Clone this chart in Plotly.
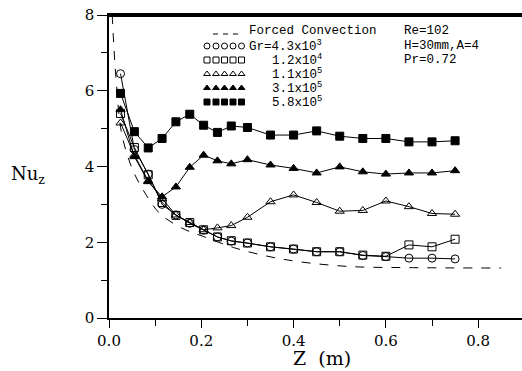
import plotly.graph_objects as go

# ---- data ----
z = [0.025, 0.055, 0.085, 0.115, 0.145, 0.175, 0.205, 0.235, 0.265, 0.3,
     0.35, 0.4, 0.45, 0.5, 0.55, 0.6, 0.65, 0.7, 0.75]
nu_gr43e3 = [6.45, 4.45, 3.80, 3.00, 2.72, 2.50, 2.32, 2.14, 2.03, 1.98,
             1.88, 1.82, 1.75, 1.75, 1.65, 1.62, 1.58, 1.58, 1.56]
nu_gr12e4 = [5.40, 4.50, 3.78, 3.05, 2.71, 2.52, 2.33, 2.14, 2.04, 1.98,
             1.88, 1.82, 1.75, 1.75, 1.66, 1.63, 1.93, 1.88, 2.08]
nu_gr11e5 = [5.15, 4.30, 3.62, 3.15, 2.72, 2.52, 2.33, 2.38, 2.44, 2.66,
             3.07, 3.25, 3.05, 2.82, 2.84, 3.09, 2.94, 2.76, 2.74]
nu_gr31e5 = [5.50, 4.26, 3.60, 3.20, 3.46, 3.98, 4.30, 4.15, 4.07, 4.18,
             4.04, 3.95, 3.83, 3.99, 3.86, 3.80, 3.83, 3.83, 3.89]
nu_gr58e5 = [5.93, 4.92, 4.49, 4.74, 5.18, 5.38, 5.09, 4.90, 5.07, 5.03,
             4.83, 4.83, 4.94, 4.80, 4.74, 4.74, 4.65, 4.65, 4.68]
fc_z = [0.007, 0.011, 0.016, 0.027, 0.05, 0.078, 0.11, 0.157, 0.205, 0.27,
        0.34, 0.41, 0.52, 0.65, 0.85]
fc_nu = [8.0, 7.07, 6.2, 4.9, 3.95, 3.3, 2.76, 2.38, 2.15, 1.86,
         1.64, 1.49, 1.36, 1.33, 1.32]

series_labels = ["Gr=4.3x10<sup>3</sup>", "1.2x10<sup>4</sup>", "1.1x10<sup>5</sup>",
                 "3.1x10<sup>5</sup>", "5.8x10<sup>5</sup>"]
series_symbols = ["circle-open", "square-open", "triangle-up-open", "triangle-up", "square"]
series_values = [nu_gr43e3, nu_gr12e4, nu_gr11e5, nu_gr31e5, nu_gr58e5]
info_lines = ["Re=102", "H=30mm,A=4", "Pr=0.72"]

W, H = 522, 371
L, R, T, B = 109, 0, 15, 53
pw, ph = W - L - R, H - T - B

def px(x):
    return (x - L) / pw

def py(y):
    return (H - B - y) / ph

fig = go.Figure()

fig.add_trace(go.Scatter(x=fc_z, y=fc_nu, mode="lines",
                         line=dict(color="black", width=1, dash="dash", shape="spline"),
                         showlegend=False, hoverinfo="skip"))

for vals, sym in zip(series_values, series_symbols):
    fig.add_trace(go.Scatter(x=z, y=vals, mode="lines+markers",
                             line=dict(color="black", width=1),
                             marker=dict(symbol=sym, size=8, color="black",
                                         line=dict(color="black", width=1)),
                             showlegend=False))

# ---- hand-drawn legend on overlay axes (paper-like coordinates) ----
row_y = [46, 60, 74, 88, 102]
sample_x = [207, 216, 224.5, 233, 241.5]
for ry, sym in zip(row_y, series_symbols):
    fig.add_trace(go.Scatter(x=[px(v) for v in sample_x], y=[py(ry)] * 5, xaxis="x2", yaxis="y2",
                             mode="markers", marker=dict(symbol=sym, size=6, color="black",
                                                         line=dict(color="black", width=1)),
                             showlegend=False, hoverinfo="skip"))
fig.add_trace(go.Scatter(x=[px(213), px(243)], y=[py(34), py(34)], xaxis="x2", yaxis="y2",
                         mode="lines", line=dict(color="black", width=1, dash="5px,5px"),
                         showlegend=False, hoverinfo="skip"))

mono = "Liberation Mono"
ann = []
ann.append(dict(x=px(248), y=py(31), text="Forced Convection"))
ann.append(dict(x=px(248), y=py(46), text=series_labels[0]))
for ry, lab in zip(row_y[1:], series_labels[1:]):
    ann.append(dict(x=px(271), y=py(ry), text=lab))
for ry, t in zip([31, 46, 60], info_lines):
    ann.append(dict(x=px(403), y=py(ry), text=t))
annotations = []
for a in ann:
    annotations.append(dict(xref="paper", yref="paper", xanchor="left", yanchor="middle", showarrow=False,
                            borderpad=0, font=dict(family=mono, size=12.5, color="black"), **a))

annotations.append(dict(xref="paper", yref="paper", x=px(28), y=py(175), xanchor="center", yanchor="middle",
                        showarrow=False, text="Nu<sub>z</sub>",
                        font=dict(family="DejaVu Serif", size=18, color="black")))
annotations.append(dict(xref="paper", yref="paper", x=px(322), y=py(358), xanchor="center", yanchor="middle",
                        showarrow=False, text="Z  (m)",
                        font=dict(family="DejaVu Serif", size=19, color="black")))

fig.update_layout(
    width=W, height=H,
    margin=dict(l=L, r=R, t=T, b=B),
    paper_bgcolor="white", plot_bgcolor="white",
    font=dict(family="DejaVu Serif", size=15, color="black"),
    xaxis=dict(range=[0, 0.895], tickmode="array", tickvals=[0, 0.2, 0.4, 0.6, 0.8],
               ticktext=["0.0", "0.2", "0.4", "0.6", "0.8"],
               ticks="outside", ticklen=8, tickwidth=1, tickcolor="black",
               minor=dict(tickvals=[0.1, 0.3, 0.5, 0.7], ticks="outside", ticklen=6, tickcolor="black"),
               showline=True, linecolor="black", linewidth=1.5, mirror=True,
               showgrid=False, zeroline=False),
    yaxis=dict(range=[0, 8], tickvals=[0, 2, 4, 6, 8],
               ticks="outside", ticklen=10, tickwidth=1, tickcolor="black",
               minor=dict(tickvals=[1, 3, 5, 7], ticks="outside", ticklen=6, tickcolor="black"),
               showline=True, linecolor="black", linewidth=1.5,
               showgrid=False, zeroline=False),
    xaxis2=dict(range=[0, 1], overlaying="x", visible=False, domain=[0, 1]),
    yaxis2=dict(range=[0, 1], overlaying="y", visible=False),
    shapes=[dict(type="line", xref="paper", yref="paper", layer="above",
                 x0=-0.005, x1=1, y0=0.997, y1=0.997, line=dict(color="black", width=2))],
    annotations=annotations,
    showlegend=False,
)

fig.write_html("out.html", config={"displayModeBar": False},
               post_script="document.body.style.margin='0px';document.body.style.overflow='hidden';")
